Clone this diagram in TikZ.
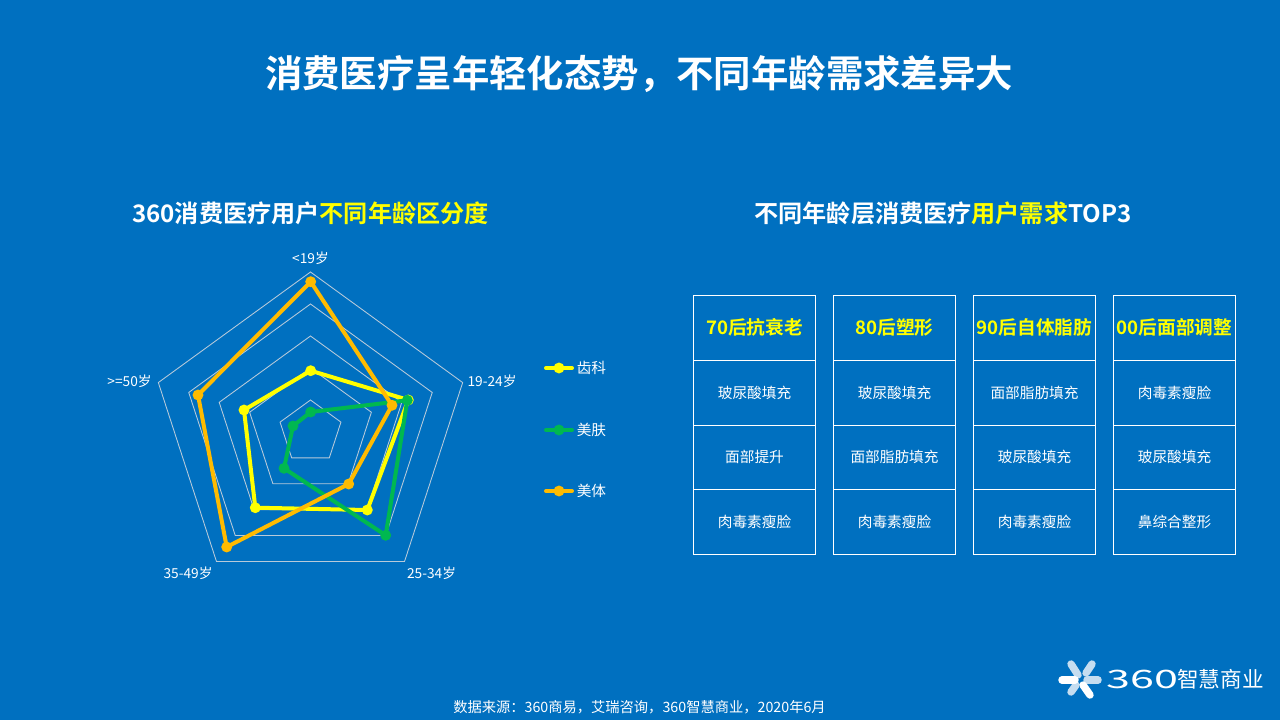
\documentclass[tikz,border=0pt]{standalone}
\usepackage{fontspec}
\setmainfont{Noto Sans CJK SC}[BoldFont={Noto Sans CJK SC Bold}]
\definecolor{bgblue}{HTML}{0070C0}
\definecolor{serY}{HTML}{FFFF00}
\definecolor{serG}{HTML}{00B850}
\definecolor{serO}{HTML}{FFBB00}
\definecolor{ringc}{HTML}{B8CADA}
\definecolor{petal}{HTML}{C5DDF0}
\newcommand{\lowr}[2]{\raisebox{-#1}{#2}}
\tikzset{
  px/.style={x=0.75pt,y=-0.75pt},
  ring/.style={draw=ringc,line width=0.65pt,line join=miter},
  serline/.style={line width=3pt,line join=round,line cap=round},
  mk/.style={circle,inner sep=0pt,minimum size=8.2pt},
  axlab/.style={text=white,font=\fontsize{10.3pt}{12pt}\selectfont,inner sep=0pt},
  headc/.style={draw=white,line width=0.75pt,minimum width=91.5pt,minimum height=48.7pt,inner sep=0pt,text=serY,font=\fontsize{14pt}{16pt}\selectfont\bfseries},
  bodyc/.style={draw=white,line width=0.75pt,minimum width=91.5pt,minimum height=48.4pt,inner sep=0pt,text=white,font=\fontsize{11pt}{13pt}\selectfont},
  title/.style={text=white,inner sep=0pt,font=\fontsize{28.05pt}{34pt}\selectfont\bfseries},
  subt/.style={text=white,inner sep=0pt,font=\fontsize{18.1pt}{21pt}\selectfont\bfseries},
  leg/.style={text=white,inner sep=0pt,anchor=west,font=\fontsize{11pt}{13pt}\selectfont},
  lp/.style={line width=5.6pt,line cap=round,color=petal},
  lw/.style={line width=5.6pt,line cap=round,color=white},
}
\begin{document}
\begin{tikzpicture}[px]
\useasboundingbox (0,0) rectangle (1280,720);
\fill[bgblue] (0,0) rectangle (1280,720);
\node[title] (maintitle) at (639,74) {消费医疗呈年轻化态势，不同年龄需求差异大};
\node[subt] (lefttitle) at (310.5,213.5) {360消费医疗用户\textcolor{serY}{不同年龄区分度}};
\node[subt] (righttitle) at (943,213.5) {不同年龄层消费医疗\textcolor{serY}{用户需求}TOP3};
% radar rings
\foreach \r in {32,64,96,128,160}{
  \draw[ring] (310.5,432-\r) -- (310.5+0.9511*\r,432-0.3090*\r) -- (310.5+0.5878*\r,432+0.8090*\r) -- (310.5-0.5878*\r,432+0.8090*\r) -- (310.5-0.9511*\r,432-0.3090*\r) -- cycle;
}
\node[axlab] (a1) at (310.5,258.5) {<19岁};
\node[axlab] (a2) at (492,381.5) {19-24岁};
\node[axlab] (a3) at (431.5,573.5) {25-34岁};
\node[axlab] (a4) at (188,573.5) {35-49岁};
\node[axlab] (a5) at (129.5,381.5) {>=50岁};
% series
\coordinate (y1) at (310.7,370.7); \coordinate (y2) at (408.3,400); \coordinate (y3) at (367.3,510); \coordinate (y4) at (255.3,507.7); \coordinate (y5) at (244,410);
\coordinate (g1) at (310.7,412); \coordinate (g2) at (407.3,400.3); \coordinate (g3) at (385.7,535.3); \coordinate (g4) at (284,468.3); \coordinate (g5) at (293,426);
\coordinate (o1) at (310.7,281.7); \coordinate (o2) at (392,405.3); \coordinate (o3) at (348.7,484); \coordinate (o4) at (226.7,547); \coordinate (o5) at (198,395);
\draw[serline,serY] (y1)--(y2)--(y3)--(y4)--(y5)--cycle;
\foreach \i in {1,...,5} \node[mk,fill=serY] at (y\i) {};
\draw[serline,serG] (g1)--(g2)--(g3)--(g4)--(g5)--cycle;
\foreach \i in {1,...,5} \node[mk,fill=serG] at (g\i) {};
\draw[serline,serO] (o1)--(o2)--(o3)--(o4)--(o5)--cycle;
\foreach \i in {1,...,5} \node[mk,fill=serO] at (o\i) {};
% legend
\foreach \yy/\cc/\tt in {368/serY/齿科,430/serG/美肤,491/serO/美体}{
  \draw[serline,\cc] (546,\yy) -- (572,\yy);
  \node[mk,fill=\cc] at (559,\yy) {};
  \node[leg] at (576.5,\yy) {\tt};
}
% table
\foreach \cx/\n/\h/\a/\b/\c in {
 754.5/1/70后抗衰老/玻尿酸填充/面部提升/肉毒素瘦脸,
 894.5/2/80后塑形/玻尿酸填充/面部脂肪填充/肉毒素瘦脸,
 1034.5/3/90后自体脂肪/面部脂肪填充/玻尿酸填充/肉毒素瘦脸,
 1174.5/4/00后面部调整/肉毒素瘦脸/玻尿酸填充/鼻综合整形}{
  \node[headc] (h\n) at (\cx,327.8) {\lowr{1pt}{\h}};
  \node[bodyc] (r\n a) at (\cx,392.9) {\a};
  \node[bodyc] (r\n b) at (\cx,457.4) {\lowr{0.8pt}{\b}};
  \node[bodyc] (r\n c) at (\cx,521.9) {\lowr{0.4pt}{\c}};
}
% logo
\draw[lp] (1071,664) -- (1078,675);
\draw[lp] (1092,664) -- (1086,673);
\draw[lp] (1087,680) -- (1098,680);
\draw[lp] (1071,692) -- (1076,685);
\draw[lw] (1062,680) -- (1075,680);
\draw[lw] (1083,685) -- (1090,695);
\node[inner sep=0pt,anchor=west,text=white,font=\fontsize{19pt}{22pt}\selectfont] (logonum) at (1106,679) {\scalebox{1.7}[1]{360}};
\node[inner sep=0pt,anchor=west,text=white,font=\fontsize{16.2pt}{20pt}\selectfont] (logotxt) at (1177,679.5) {智慧商业};
\node[text=white,inner sep=0pt,font=\fontsize{10.7pt}{12pt}\selectfont] (source) at (639.5,707) {数据来源：360商易，艾瑞咨询，360智慧商业，2020年6月};
\end{tikzpicture}
\end{document}
